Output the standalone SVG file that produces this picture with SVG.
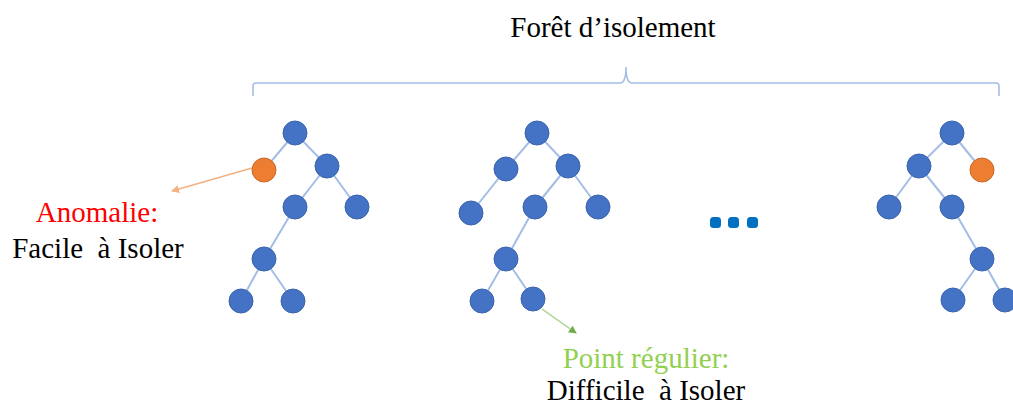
<svg xmlns="http://www.w3.org/2000/svg" width="1013" height="408" viewBox="0 0 1013 408">
<style>
.n{fill:#4472C4;stroke:#3B64AD;stroke-width:1}
.o{fill:#ED7D31;stroke:#C9682A;stroke-width:1}
.e{stroke:#A4BDE6;stroke-width:2;fill:none}
.t{font-family:"Liberation Serif","Times New Roman",serif;font-size:29px;text-anchor:middle}
</style>
<defs>
<marker id="ao" markerWidth="8" markerHeight="8" refX="7" refY="4" orient="auto" markerUnits="userSpaceOnUse"><path d="M0,0 L8,4 L0,8 Z" fill="#F4B183"/></marker>
<marker id="ag" markerWidth="8" markerHeight="8" refX="7" refY="4" orient="auto" markerUnits="userSpaceOnUse"><path d="M0,0 L8,4 L0,8 Z" fill="#70AD47"/></marker>
</defs>
<rect width="1013" height="408" fill="#fff"/>
<g id="title"><text class="t" x="613" y="37">Forêt d’isolement</text></g>
<g id="bracket"><path d="M253,96 L253,86 Q253,83 256,83 L620,83 Q626,83 626,67 Q626,83 632,83 L996,83 Q999,83 999,86 L999,96" fill="none" stroke="#A4BDE6" stroke-width="1.6"/></g>
<g id="connectors">
<g id="tree1-edges">
<line class="e" x1="295" y1="133" x2="264" y2="170"/>
<line class="e" x1="295" y1="133" x2="327" y2="166"/>
<line class="e" x1="327" y1="166" x2="295" y2="207"/>
<line class="e" x1="327" y1="166" x2="357" y2="207"/>
<line class="e" x1="295" y1="207" x2="264" y2="259"/>
<line class="e" x1="264" y1="259" x2="241" y2="301"/>
<line class="e" x1="264" y1="259" x2="293" y2="301"/>
</g>
<g id="tree2-edges">
<line class="e" x1="537" y1="133" x2="506" y2="169"/>
<line class="e" x1="537" y1="133" x2="568" y2="166"/>
<line class="e" x1="506" y1="169" x2="471" y2="213"/>
<line class="e" x1="568" y1="166" x2="535" y2="207"/>
<line class="e" x1="568" y1="166" x2="598" y2="207"/>
<line class="e" x1="535" y1="207" x2="506" y2="259"/>
<line class="e" x1="506" y1="259" x2="482" y2="301"/>
<line class="e" x1="506" y1="259" x2="533" y2="299"/>
</g>
<g id="tree3-edges">
<line class="e" x1="952" y1="133" x2="919" y2="166"/>
<line class="e" x1="952" y1="133" x2="982" y2="170"/>
<line class="e" x1="919" y1="166" x2="889" y2="207"/>
<line class="e" x1="919" y1="166" x2="952" y2="207"/>
<line class="e" x1="952" y1="207" x2="982" y2="259"/>
<line class="e" x1="982" y1="259" x2="953" y2="300"/>
<line class="e" x1="982" y1="259" x2="1005" y2="300"/>
</g>
<line id="arrow-anomalie" x1="252" y1="168" x2="172" y2="191" stroke="#F4B183" stroke-width="1.5" marker-end="url(#ao)"/>
<line id="arrow-regulier" x1="542" y1="309" x2="576" y2="333" stroke="#A9D18E" stroke-width="1.5" marker-end="url(#ag)"/>
</g>
<g id="tree1">
<circle class="n" cx="295" cy="133" r="12"/>
<circle class="o" cx="264" cy="170" r="12"/>
<circle class="n" cx="327" cy="166" r="12"/>
<circle class="n" cx="295" cy="207" r="12"/>
<circle class="n" cx="357" cy="207" r="12"/>
<circle class="n" cx="264" cy="259" r="12"/>
<circle class="n" cx="241" cy="301" r="12"/>
<circle class="n" cx="293" cy="301" r="12"/>
</g>
<g id="tree2">
<circle class="n" cx="537" cy="133" r="12"/>
<circle class="n" cx="506" cy="169" r="12"/>
<circle class="n" cx="568" cy="166" r="12"/>
<circle class="n" cx="471" cy="213" r="12"/>
<circle class="n" cx="535" cy="207" r="12"/>
<circle class="n" cx="598" cy="207" r="12"/>
<circle class="n" cx="506" cy="259" r="12"/>
<circle class="n" cx="482" cy="301" r="12"/>
<circle class="n" cx="533" cy="299" r="12"/>
</g>
<g id="tree3">
<circle class="n" cx="952" cy="133" r="12"/>
<circle class="n" cx="919" cy="166" r="12"/>
<circle class="o" cx="982" cy="170" r="12"/>
<circle class="n" cx="889" cy="207" r="12"/>
<circle class="n" cx="952" cy="207" r="12"/>
<circle class="n" cx="982" cy="259" r="12"/>
<circle class="n" cx="953" cy="300" r="12"/>
<circle class="n" cx="1005" cy="300" r="12"/>
</g>
<g id="ellipsis" fill="#0070C0">
<rect x="710" y="217" width="11" height="11" rx="3.5"/>
<rect x="728" y="217" width="11" height="11" rx="3.5"/>
<rect x="747" y="217" width="11" height="11" rx="3.5"/>
</g>
<g id="label-anomalie">
<text class="t" x="97" y="222" fill="#FF0000">Anomalie:</text>
<text class="t" x="98" y="258" fill="#000" xml:space="preserve">Facile  à Isoler</text>
</g>
<g id="label-regulier">
<text class="t" x="646" y="368" fill="#92D050">Point régulier:</text>
<text class="t" x="646" y="400" fill="#000" xml:space="preserve">Difficile  à Isoler</text>
</g>
</svg>
